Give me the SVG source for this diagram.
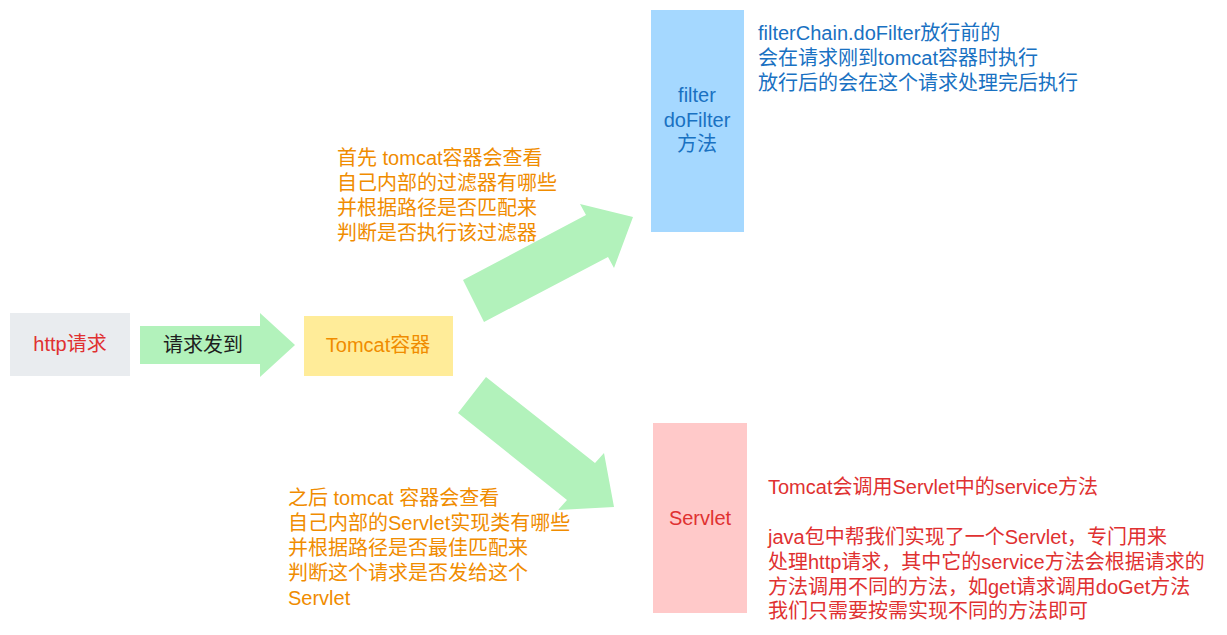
<svg xmlns="http://www.w3.org/2000/svg" width="1227" height="635" viewBox="0 0 1227 635">
<style>
text{font-family:"Liberation Sans","Noto Sans CJK SC",sans-serif;font-size:20px}
.c{text-anchor:middle}
.or{fill:#f08c00}
.bl{fill:#1971c2}
.rd{fill:#e03131}
.bk{fill:#1e1e1e}
.arrow{fill:#b2f2bb}
</style>
<rect width="1227" height="635" fill="#ffffff"/>
<g id="connectors">
<polygon class="arrow" points="140,326 260,326 260,313 295,345 260,377 260,364 140,364"/>
<polygon class="arrow" points="463,280 586,215 580,204 633,217 614,268 608,257 484,322"/>
<polygon class="arrow" points="486,377 595,463 604,453 614,507 558,510 567,500 458,413"/>
<text class="bk c" x="203" y="352">请求发到</text>
</g>
<g id="http">
<rect x="10" y="313" width="120" height="63" fill="#e9ecef"/>
<text class="rd c" x="70" y="351">http请求</text>
</g>
<g id="tomcat">
<rect x="304" y="316" width="149" height="60" fill="#ffec99"/>
<text class="or c" x="378" y="352">Tomcat容器</text>
</g>
<g id="filter">
<rect x="651" y="10" width="93" height="222" fill="#a5d8ff"/>
<text class="bl c" x="697" y="102">filter</text>
<text class="bl c" x="697" y="127">doFilter</text>
<text class="bl c" x="697" y="151">方法</text>
</g>
<g id="servlet">
<rect x="653" y="423" width="94" height="190" fill="#ffc9c9"/>
<text class="rd c" x="700" y="525">Servlet</text>
</g>
<g id="note-filter">
<text class="bl" x="758" y="40">filterChain.doFilter放行前的</text>
<text class="bl" x="758" y="65">会在请求刚到tomcat容器时执行</text>
<text class="bl" x="758" y="90">放行后的会在这个请求处理完后执行</text>
</g>
<g id="note-top">
<text class="or" x="337" y="165">首先 tomcat容器会查看</text>
<text class="or" x="337" y="190">自己内部的过滤器有哪些</text>
<text class="or" x="337" y="215">并根据路径是否匹配来</text>
<text class="or" x="337" y="240">判断是否执行该过滤器</text>
</g>
<g id="note-bottom">
<text class="or" x="288" y="505">之后 tomcat 容器会查看</text>
<text class="or" x="288" y="530">自己内部的Servlet实现类有哪些</text>
<text class="or" x="288" y="555">并根据路径是否最佳匹配来</text>
<text class="or" x="288" y="580">判断这个请求是否发给这个</text>
<text class="or" x="288" y="605">Servlet</text>
</g>
<g id="note-servlet">
<text class="rd" x="768" y="494">Tomcat会调用Servlet中的service方法</text>
<text class="rd" x="768" y="544">java包中帮我们实现了一个Servlet，专门用来</text>
<text class="rd" x="768" y="569">处理http请求，其中它的service方法会根据请求的</text>
<text class="rd" x="768" y="594">方法调用不同的方法，如get请求调用doGet方法</text>
<text class="rd" x="768" y="618">我们只需要按需实现不同的方法即可</text>
</g>
</svg>
